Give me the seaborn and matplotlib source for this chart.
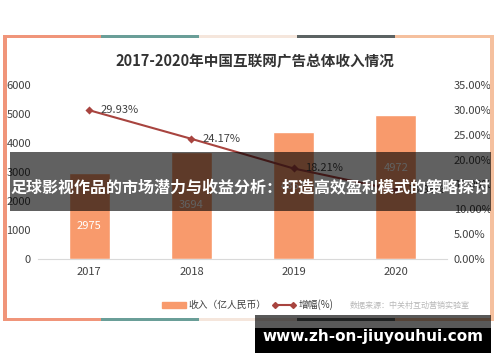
import matplotlib
matplotlib.use("Agg")
import matplotlib.pyplot as plt
import seaborn as sns
from matplotlib.patches import Rectangle, Patch
from matplotlib.lines import Line2D
from matplotlib.ticker import FuncFormatter

# Data
years = ["2017", "2018", "2019", "2020"]
revenue = [2975, 3694, 4367, 4972]
growth = [29.93, 24.17, 18.21, 13.85]

title = "2017-2020年中国互联网广告总体收入情况"
banner = "足球影视作品的市场潜力与收益分析：打造高效盈利模式的策略探讨"
site = "www.zh-on-jiuyouhui.com"
source = "数据来源：中关村互动营销实验室"

bar_color = "#F89A6C"
line_color = "#A8443F"
text_color = "#404040"

sns.set_style("white")
plt.rcParams["font.family"] = ["Noto Sans CJK SC", "DejaVu Sans"]

fig = plt.figure(figsize=(5, 3.62), dpi=100)
ax = fig.add_axes([0.076, 0.2845, 0.818, 0.4807])

sns.barplot(x=years, y=revenue, color=bar_color, width=0.4,
            saturation=1, ax=ax)
ax.set_ylim(0, 6000)
ax.set_yticks(range(0, 6001, 1000))
ax.bar_label(ax.containers[0], labels=[str(v) for v in revenue],
             padding=-42, color="white", fontsize=8)

ax2 = ax.twinx()
sns.pointplot(x=years, y=growth, color=line_color, markers="D",
              markersize=3, linewidth=1.5, ax=ax2)
ax2.set_ylim(0, 35)
ax2.set_yticks(range(0, 36, 5))
ax2.yaxis.set_major_formatter(FuncFormatter(lambda v, p: f"{v:.2f}%"))
for i, g in enumerate(growth):
    ax2.annotate(f"{g:.2f}%", (i, g), xytext=(8, 0), textcoords="offset points",
                 ha="left", va="center", fontsize=8, color=text_color)

ax.set_xlim(-0.5, 3.5)
for a in (ax, ax2):
    a.set_xlabel("")
    a.set_ylabel("")
    for s in a.spines.values():
        s.set_visible(False)
    a.tick_params(length=0, labelsize=8, labelcolor=text_color)
ax.spines["bottom"].set_visible(True)
ax.spines["bottom"].set_color("#d9d9d9")
ax.tick_params(axis="y", pad=5)
ax.tick_params(axis="x", pad=6)
ax2.tick_params(axis="y", pad=5)

# title
fig.text(0.51, 0.8315, title, ha="center", va="center", fontsize=10.5,
         fontweight="bold", color="#333333")

# legend
handles = [Patch(color=bar_color),
           Line2D([0], [0], color=line_color, marker="D", markersize=3, lw=1.5)]
fig.legend(handles, ["收入（亿人民币）", "增幅(%)"], loc="center",
           bbox_to_anchor=(0.496, 0.1575), ncol=2, frameon=False, fontsize=7,
           handlelength=2.4, handletextpad=0.3, columnspacing=0.6, numpoints=2,
           labelcolor=text_color)
fig.text(0.82, 0.1575, source, ha="center", va="center", fontsize=5.8,
         color="#b8b8b8")

# frame borders
seg_colors = ["#F0957A", "#6A9E98", "#F5E6DC", "#5C6363", "#F5C09E"]
for k, c in enumerate(seg_colors):
    x0 = (3 + k * 98) / 500
    fig.add_artist(Rectangle((x0, 1 - 38 / 362), 98 / 500, 3 / 362,
                             transform=fig.transFigure, color=c, lw=0))
    fig.add_artist(Rectangle((x0, 1 - 321 / 362), 98 / 500, 3 / 362,
                             transform=fig.transFigure, color=c, lw=0))
fig.add_artist(Rectangle((3 / 500, 1 - 321 / 362), 4 / 500, 286 / 362,
                         transform=fig.transFigure, color="#F0957A", lw=0))
fig.add_artist(Rectangle((490 / 500, 1 - 321 / 362), 4 / 500, 286 / 362,
                         transform=fig.transFigure, color="#F5C09E", lw=0))

# banner overlay
fig.add_artist(Rectangle((10 / 500, 1 - 211 / 362), 481 / 500, 59 / 362,
                         transform=fig.transFigure, color="black", alpha=0.62,
                         lw=0))
fig.text(0.501, 1 - 187 / 362, banner, ha="center", va="center",
         fontsize=11.5, fontweight="bold", color="white")

# site watermark
fig.add_artist(Rectangle((255 / 500, 1 - 328 / 362), 236 / 500, 13 / 362,
                         transform=fig.transFigure, color="black", alpha=0.65,
                         lw=0))
fig.add_artist(Rectangle((255 / 500, 1 - 353 / 362), 236 / 500, 25 / 362,
                         transform=fig.transFigure, color="black", lw=0))
fig.text(0.745, 1 - 337 / 362, site, ha="center", va="center", fontsize=11,
         fontweight="bold", color="white", family="DejaVu Sans")

fig.savefig("out.png", dpi=100)
